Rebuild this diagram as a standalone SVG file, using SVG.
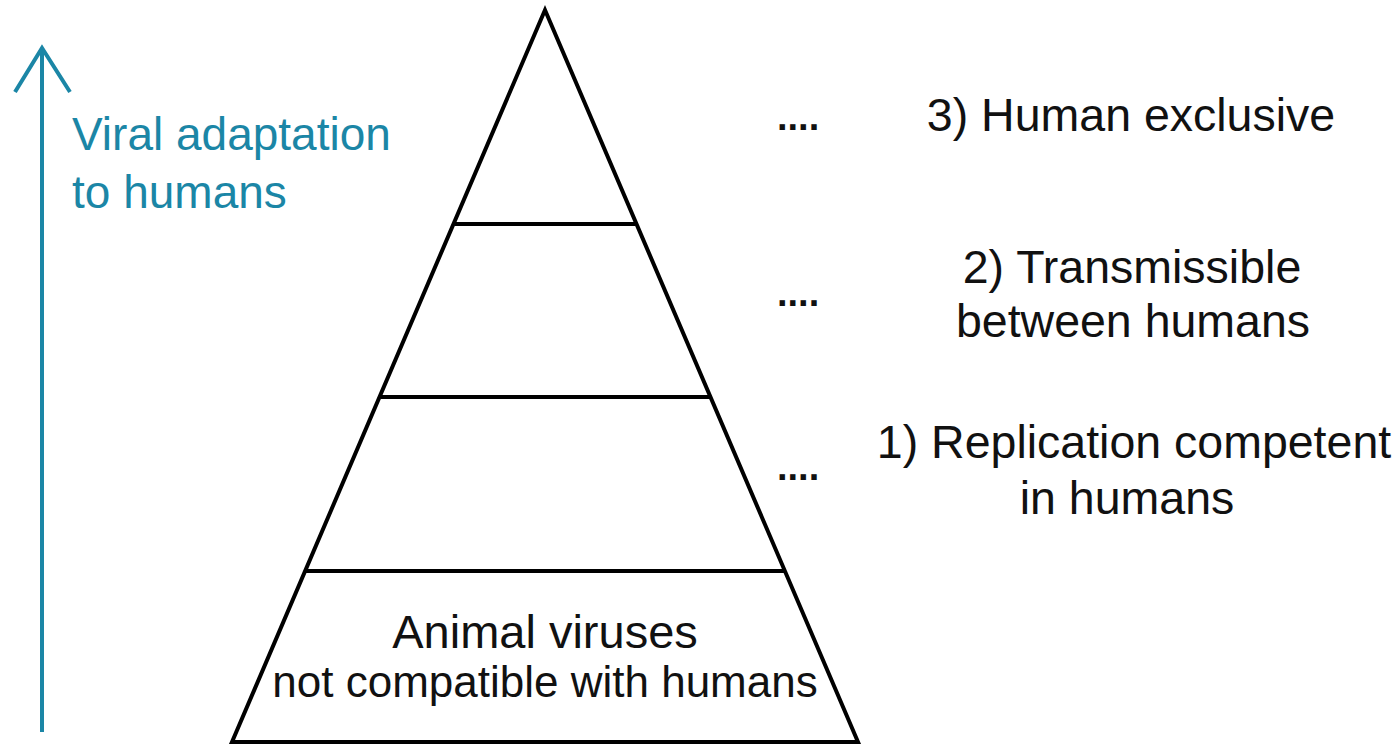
<svg xmlns="http://www.w3.org/2000/svg" width="1398" height="744" viewBox="0 0 1398 744">
<style>
.ln{stroke:#000;stroke-width:4;fill:none;stroke-linejoin:miter}
.t{font-family:"Liberation Sans",Arial,sans-serif;font-size:46.5px;fill:#111;text-anchor:middle}
.b{font-family:"Liberation Sans",Arial,sans-serif;font-size:46px;fill:#1B86A6}
.ar{stroke:#1B86A6;stroke-width:4;fill:none}
.d{font-family:"Liberation Sans",Arial,sans-serif;font-size:38px;font-weight:bold;fill:#111}
</style>
<rect width="1398" height="744" fill="#fff"/>
<g id="pyramid">
<polygon class="ln" points="545,10 232,742 858,742"/>
</g>
<g id="connectors">
<line class="ln" x1="455" y1="224" x2="635" y2="224"/>
<line class="ln" x1="381" y1="397" x2="710" y2="397"/>
<line class="ln" x1="306" y1="571" x2="784" y2="571"/>
<path class="ar" d="M42,732 V48 M15,92 L42,48 L70,92"/>
</g>
<g id="axis-label">
<text class="b" x="72" y="150">Viral adaptation</text>
<text class="b" x="72" y="208">to humans</text>
</g>
<g id="level-0">
<text class="t" x="545" y="648" style="font-size:47px">Animal viruses</text>
<text class="t" x="545" y="697" style="font-size:44px">not compatible with humans</text>
</g>
<g id="level-3">
<text class="d" x="777" y="130">....</text>
<text class="t" x="1131" y="131">3) Human exclusive</text>
</g>
<g id="level-2">
<text class="d" x="777" y="306">....</text>
<text class="t" x="1132" y="283">2) Transmissible</text>
<text class="t" x="1133" y="337">between humans</text>
</g>
<g id="level-1">
<text class="d" x="777" y="480">....</text>
<text class="t" x="1134" y="458">1) Replication competent</text>
<text class="t" x="1127" y="514">in humans</text>
</g>
</svg>
